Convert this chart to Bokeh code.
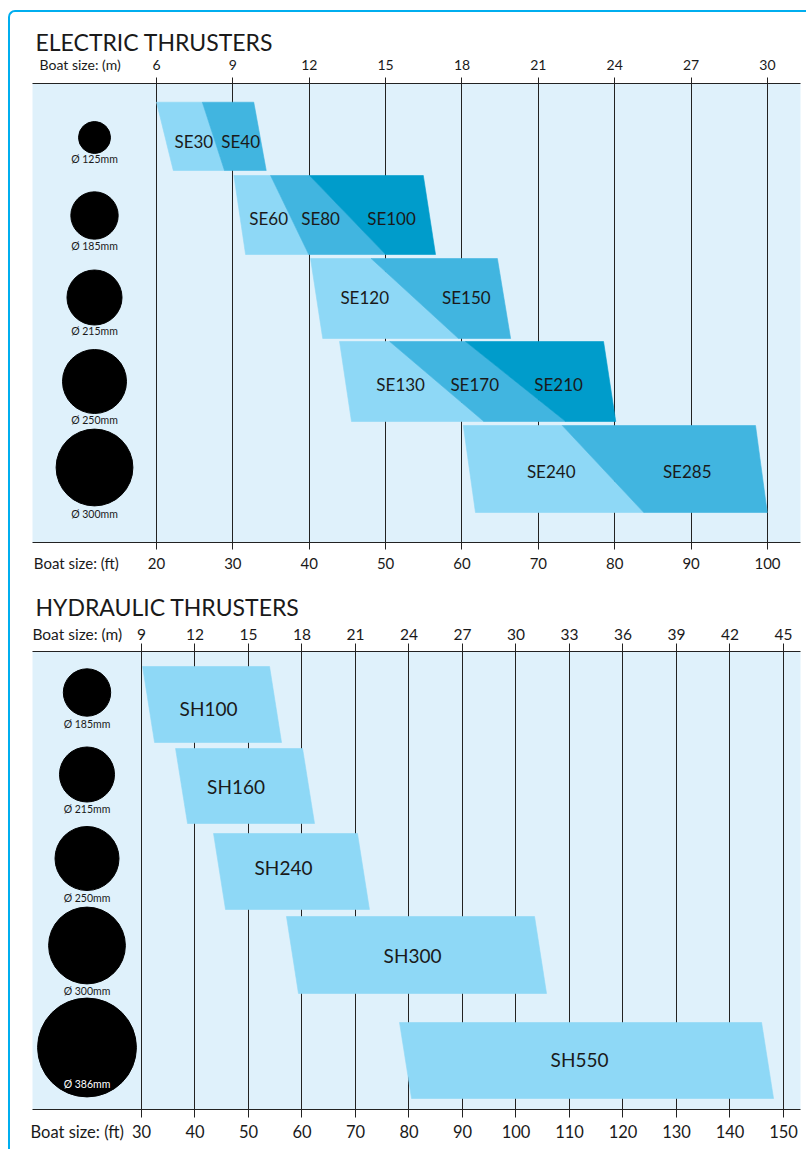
from bokeh.plotting import figure
from bokeh.models import (Range1d, LinearAxis, FixedTicker, Grid,
                          ColumnDataSource, InlineStyleSheet)
from bokeh.layouts import column
from bokeh.embed import file_html
from bokeh.resources import INLINE
from bokeh.core.properties import value

# ---------------------------------------------------------------- data
E_TITLE = "ELECTRIC THRUSTERS"
H_TITLE = "HYDRAULIC THRUSTERS"
AXIS_M = "Boat size: (m)"
AXIS_FT = "Boat size: (ft)"

E_M_TICKS = [6, 9, 12, 15, 18, 21, 24, 27, 30]
E_FT_TICKS = [20, 30, 40, 50, 60, 70, 80, 90, 100]
H_M_TICKS = [9, 12, 15, 18, 21, 24, 27, 30, 33, 36, 39, 42, 45]
H_FT_TICKS = [30, 40, 50, 60, 70, 80, 90, 100, 110, 120, 130, 140, 150]
FT_PER_M = 10 / 3  # the chart's scale: 10 ft drawn at every 3 m

E_TUNNEL_MM = [125, 185, 215, 250, 300]
H_TUNNEL_MM = [185, 215, 250, 300, 386]

# electric models: boat-size span (m) along the top and bottom edge of each band
E_MODELS = ["SE30", "SE40", "SE60", "SE80", "SE100", "SE120", "SE150",
            "SE130", "SE170", "SE210", "SE240", "SE285"]
E_ROW = [0, 0, 1, 1, 1, 2, 2, 3, 3, 3, 4, 4]
E_SHADE = [0, 1, 0, 1, 2, 0, 1, 0, 1, 2, 0, 1]
E_TOP_FROM = [6.00, 7.80, 9.04, 10.48, 12.01, 12.05, 14.43, 13.19, 15.16, 18.14, 18.05, 21.94]
E_TOP_TO = [7.80, 9.82, 10.48, 12.01, 16.48, 14.43, 19.39, 15.16, 18.14, 23.56, 21.94, 29.53]
E_BOT_FROM = [6.66, 8.67, 9.50, 11.98, 15.00, 12.53, 17.86, 13.66, 18.86, 22.07, 18.53, 25.14]
E_BOT_TO = [8.67, 10.31, 11.98, 15.00, 16.96, 17.86, 19.91, 18.86, 22.07, 24.04, 25.14, 29.99]

# hydraulic models: boat-size span (m) along the top edge
H_MODELS = ["SH100", "SH160", "SH240", "SH300", "SH550"]
H_FROM = [9.06, 10.91, 13.04, 17.13, 23.47]
H_TO = [16.18, 18.03, 21.11, 31.04, 43.77]

# ---------------------------------------------------------------- layout / style
FONT = "Lato"
TXT = "#1a1a1a"
PANEL = "#DFF1FB"
SHADES = ["#8ED8F6", "#41B5E0", "#009CCB"]
FRAME_BLUE = "#00AEEF"
W = 806
FRAME_L, FRAME_R = 32, 6
FRAME_W = W - FRAME_L - FRAME_R
MM_TO_PX = 0.256        # circle diameter scale

# electric figure geometry (px)
E_H, E_TOP, E_PANEL_H = 580, 83, 459
E_PX_M = 25.458
E_TICK0_PX = 124        # first m tick, from frame left
E_ROW_TOP = [18.7, 92, 175, 258, 342]
E_ROW_BOT = [87, 171, 255, 338, 429]
E_LABEL_Y = [57.7, 135, 213.7, 300.7, 388]
E_LABEL_DX = [4.7, 4, 4, 2, 3, -1, 7, 9.5, -1.5, -4, 15, 5]
E_CIRC_X_PX = 62
E_CIRC_Y = [54, 132, 214, 298, 384]
E_CIRC_LBL_Y = [75, 162, 247, 336, 430]
E_AXLBL_M_AT = 3        # m position of the "Boat size: (m)" text centre
E_AXLBL_FT_AT = 9.5     # ft position of the "Boat size: (ft)" text centre

# hydraulic figure geometry (px)
H_H, H_TOP, H_PANEL_H = 569, 71, 458
H_PX_M = 17.833
H_TICK0_PX = 109
H_SLANT_PX = 12
H_ROW_TOP = [15, 97, 182, 265, 371]
H_ROW_BOT = [91, 172, 258, 342, 447]
H_LABEL_Y = [57, 135.3, 216, 304, 408.3]
H_LABEL_DX = [-3.5, -9, -8, -4, -7]
H_CIRC_X_PX = 54.5
H_CIRC_Y = [41, 123, 207, 294, 396]
H_CIRC_LBL_Y = [72, 157, 246, 339, 432]
H_CIRC_LBL_WHITE = [False, False, False, False, True]
H_AXLBL_M_AT = 5.4
H_AXLBL_FT_AT = 18


def style_axis(ax, font_size, standoff, tick_out, line=True):
    ax.axis_line_color = "#222222" if line else None
    ax.axis_line_width = 1.2
    ax.major_tick_line_color = "#222222" if tick_out else None
    ax.major_tick_in = 0
    ax.major_tick_out = tick_out
    ax.minor_tick_line_color = None
    ax.major_label_text_font = FONT
    ax.major_label_text_font_size = font_size
    ax.major_label_text_color = TXT if font_size != "0px" else None
    ax.major_label_standoff = standoff


def make_panel(height, top, panel_h, x0, x1, title, title_standoff,
               m_ticks, ft_ticks, m_lbl_at, ft_lbl_at,
               m_font, ft_font, m_out, ft_out, m_stand, ft_stand):
    p = figure(width=W, height=height, x_range=Range1d(x0, x1),
               y_range=Range1d(panel_h, 0), x_axis_type=None, y_axis_type=None,
               output_backend="svg", toolbar_location=None,
               min_border_left=FRAME_L, min_border_right=FRAME_R,
               min_border_top=top, min_border_bottom=height - top - panel_h)
    p.title.text = title
    p.title.align = "left"
    p.title.offset = 3
    try:
        p.title.standoff = title_standoff
    except Exception:
        p.title.standoff = 0
    p.title.text_font = FONT
    p.title.text_font_size = "23px"
    p.title.text_font_style = "normal"
    p.title.text_color = TXT
    p.outline_line_color = None
    p.background_fill_color = PANEL
    p.border_fill_color = "white"
    p.extra_x_ranges = {"ft": Range1d(x0 * FT_PER_M, x1 * FT_PER_M)}

    # tick marks (innermost), then the label rows
    top_marks = LinearAxis(ticker=FixedTicker(ticks=m_ticks))
    style_axis(top_marks, "0px", 0, m_out)
    top_lbls = LinearAxis(ticker=FixedTicker(ticks=[m_lbl_at] + m_ticks),
                          major_label_overrides={m_lbl_at: AXIS_M,
                                                 **{t: str(t) for t in m_ticks}})
    style_axis(top_lbls, m_font, m_stand, 0, line=False)
    bot_marks = LinearAxis(ticker=FixedTicker(ticks=ft_ticks), x_range_name="ft")
    style_axis(bot_marks, "0px", 0, ft_out)
    bot_lbls = LinearAxis(ticker=FixedTicker(ticks=[ft_lbl_at] + ft_ticks),
                          x_range_name="ft",
                          major_label_overrides={ft_lbl_at: AXIS_FT,
                                                 **{t: str(t) for t in ft_ticks}})
    style_axis(bot_lbls, ft_font, ft_stand, 0, line=False)
    p.add_layout(top_marks, "above")
    p.add_layout(top_lbls, "above")
    p.add_layout(bot_marks, "below")
    p.add_layout(bot_lbls, "below")
    p.add_layout(Grid(dimension=0, ticker=FixedTicker(ticks=m_ticks),
                      grid_line_color="#222222", grid_line_width=1))
    return p


TEXT_KW = dict(text_font=value(FONT), text_align="center", text_baseline="middle")

# ---------------------------------------------------------------- electric
ex0 = E_M_TICKS[0] - E_TICK0_PX / E_PX_M
ex1 = ex0 + FRAME_W / E_PX_M
p1 = make_panel(E_H, E_TOP, E_PANEL_H, ex0, ex1, E_TITLE, -6,
                E_M_TICKS, E_FT_TICKS, E_AXLBL_M_AT, E_AXLBL_FT_AT,
                "14px", "15px", 6, 7, 5, 4)

e_src = ColumnDataSource(dict(
    xs=[[a, b, c, d] for a, b, c, d in zip(E_TOP_FROM, E_TOP_TO, E_BOT_TO, E_BOT_FROM)],
    ys=[[E_ROW_TOP[r], E_ROW_TOP[r], E_ROW_BOT[r], E_ROW_BOT[r]] for r in E_ROW],
    color=[SHADES[s] for s in E_SHADE],
))
p1.patches("xs", "ys", source=e_src, fill_color="color", line_color="color",
           line_width=0.6)
lbl_x = [(a + b + c + d) / 4 + dx / E_PX_M for a, b, c, d, dx in
         zip(E_TOP_FROM, E_TOP_TO, E_BOT_TO, E_BOT_FROM, E_LABEL_DX)]
p1.text(x=lbl_x, y=[E_LABEL_Y[r] for r in E_ROW], text=E_MODELS,
        text_font_size="17px", text_color=TXT, **TEXT_KW)

ecx = ex0 + E_CIRC_X_PX / E_PX_M
p1.scatter(x=[ecx] * len(E_TUNNEL_MM), y=E_CIRC_Y,
           size=[d * MM_TO_PX for d in E_TUNNEL_MM], color="black")
p1.text(x=[ecx] * len(E_TUNNEL_MM), y=E_CIRC_LBL_Y,
        text=["Ø %dmm" % d for d in E_TUNNEL_MM],
        text_font_size="10.5px", text_color=TXT, **TEXT_KW)

# ---------------------------------------------------------------- hydraulic
hx0 = H_M_TICKS[0] - H_TICK0_PX / H_PX_M
hx1 = hx0 + FRAME_W / H_PX_M
p2 = make_panel(H_H, H_TOP, H_PANEL_H, hx0, hx1, H_TITLE, 1,
                H_M_TICKS, H_FT_TICKS, H_AXLBL_M_AT, H_AXLBL_FT_AT,
                "15.5px", "16.5px", 8, 8, 1, 4)

slant = H_SLANT_PX / H_PX_M
h_src = ColumnDataSource(dict(
    xs=[[a, b, b + slant, a + slant] for a, b in zip(H_FROM, H_TO)],
    ys=[[t, t, bt, bt] for t, bt in zip(H_ROW_TOP, H_ROW_BOT)],
))
p2.patches("xs", "ys", source=h_src, fill_color=SHADES[0], line_color=SHADES[0],
           line_width=0.6)
p2.text(x=[(a + b) / 2 + slant / 2 + dx / H_PX_M for a, b, dx in zip(H_FROM, H_TO, H_LABEL_DX)],
        y=H_LABEL_Y, text=H_MODELS, text_font_size="19px", text_color=TXT, **TEXT_KW)

hcx = hx0 + H_CIRC_X_PX / H_PX_M
p2.scatter(x=[hcx] * len(H_TUNNEL_MM), y=H_CIRC_Y,
           size=[d * MM_TO_PX for d in H_TUNNEL_MM], color="black")
p2.text(x=[hcx] * len(H_TUNNEL_MM), y=H_CIRC_LBL_Y,
        text=["Ø %dmm" % d for d in H_TUNNEL_MM], text_font_size="10.5px",
        text_color=["white" if w else TXT for w in H_CIRC_LBL_WHITE], **TEXT_KW)

# rounded blue page frame (top and left edges)
frame_css = InlineStyleSheet(css=""":host::after {
  content: ""; position: absolute; left: 7.5px; top: 10px; right: -40px; bottom: -40px;
  border-left: 2.7px solid %s; border-top: 2.7px solid %s;
  border-top-left-radius: 7px; pointer-events: none; z-index: 10;
}
:host { position: relative; overflow: hidden; }""" % (FRAME_BLUE, FRAME_BLUE))

layout = column(p1, p2, spacing=0, stylesheets=[frame_css])
open("out.html", "w").write(file_html(layout, INLINE))
